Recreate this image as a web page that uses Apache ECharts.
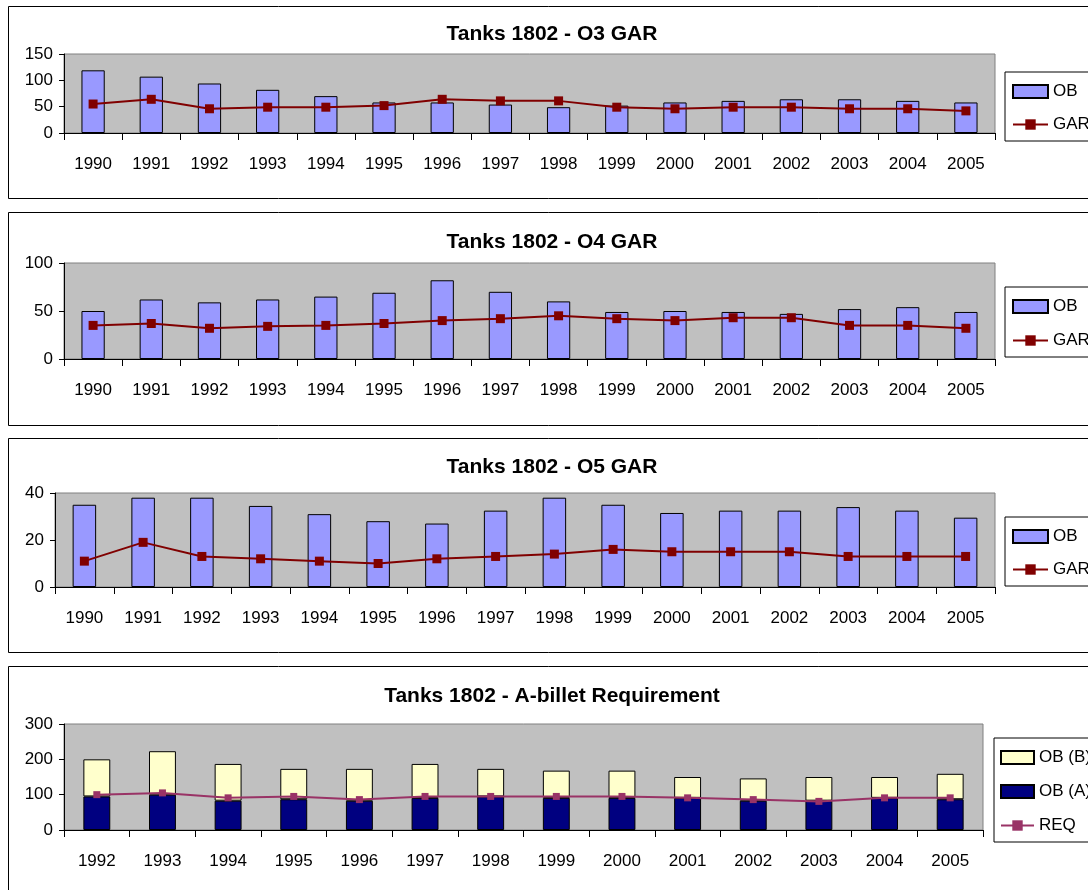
<!DOCTYPE html>
<html>
<head>
<meta charset="utf-8">
<script src="https://cdn.jsdelivr.net/npm/echarts@6/dist/echarts.min.js"></script>
<style>
  html, body { margin: 0; padding: 0; background: #fff; }
  #chart { width: 1088px; height: 890px; }
</style>
</head>
<body>
<div id="chart"></div>
<script>
// Category labels
const years90to05 = ['1990','1991','1992','1993','1994','1995','1996','1997','1998','1999','2000','2001','2002','2003','2004','2005'];
const years92to05 = ['1992','1993','1994','1995','1996','1997','1998','1999','2000','2001','2002','2003','2004','2005'];

// O3 GAR
const o3OB  = [119, 107, 94, 82, 70, 58, 58, 54, 49, 52, 58, 61, 64, 64, 61, 58];
const o3GAR = [55, 64, 46, 49, 49, 52, 64, 61, 61, 49, 46, 49, 49, 46, 46, 42];

// O4 GAR
const o4OB  = [50, 62, 59, 62, 65, 69, 82, 70, 60, 49, 50, 49, 47, 52, 54, 49];
const o4GAR = [35, 37, 32, 34, 35, 37, 40, 42, 45, 42, 40, 43, 43, 35, 35, 32];

// O5 GAR
const o5OB  = [35, 38, 38, 34.5, 31, 28, 27, 32.5, 38, 35, 31.5, 32.5, 32.5, 34, 32.5, 29.5];
const o5GAR = [11, 19, 13, 12, 11, 10, 12, 13, 14, 16, 15, 15, 15, 13, 13, 13];

// A-billet requirement
const abObA = [95, 100, 83, 87, 83, 91, 95, 91, 91, 91, 83, 83, 91, 87];
const abObB = [105, 123, 104, 86, 90, 96, 78, 77, 77, 59, 63, 67, 59, 72];
const abReq = [100, 105, 91, 95, 86, 95, 95, 95, 95, 91, 86, 81, 91, 91];

// Y-axis scales
const o3Axis = { max: 150, interval: 50 };
const o4Axis = { max: 100, interval: 50 };
const o5Axis = { max: 40, interval: 20 };
const abAxis = { max: 300, interval: 100 };

const FONT = "'Liberation Sans', Arial, sans-serif";
const BAR_BLUE = '#9999FF';
const GAR_RED = '#800000';
const REQ_PLUM = '#993366';

const panels = [
  { title: 'Tanks 1802 - O3 GAR', titleTop: 24, grid: { left: 64, top: 54, width: 931, height: 79 },
    legend: { left: 1005, top: 72, pad: [11, 7, 8, 7], gap: 16, iw: 35 } },
  { title: 'Tanks 1802 - O4 GAR', titleTop: 232, grid: { left: 64, top: 263, width: 931, height: 96 },
    legend: { left: 1005, top: 287, pad: [11, 7, 8, 7], gap: 17, iw: 35 } },
  { title: 'Tanks 1802 - O5 GAR', titleTop: 457, grid: { left: 55, top: 493, width: 940, height: 94 },
    legend: { left: 1005, top: 517, pad: [11, 7, 8, 7], gap: 16, iw: 35 } },
  { title: 'Tanks 1802 - A-billet Requirement', titleTop: 686, grid: { left: 64, top: 724, width: 919, height: 106 },
    legend: { left: 994, top: 738, pad: [11, 7, 8, 6], gap: 17, iw: 33 } }
];

const scales = [o3Axis, o4Axis, o5Axis, abAxis];
const cats = [years90to05, years90to05, years90to05, years92to05];

const option = {
  animation: false,
  backgroundColor: '#ffffff',
  textStyle: { fontFamily: FONT },
  graphic: [{
    type: 'group', z: -10,
    children: [
      { type: 'rect', z: -10, shape: { x: 8.5, y: 6.5, width: 1200, height: 192 }, style: { fill: '#fff', stroke: '#000', lineWidth: 1 } },
      { type: 'rect', z: -10, shape: { x: 8.5, y: 212.5, width: 1200, height: 213 }, style: { fill: '#fff', stroke: '#000', lineWidth: 1 } },
      { type: 'rect', z: -10, shape: { x: 8.5, y: 438.5, width: 1200, height: 214 }, style: { fill: '#fff', stroke: '#000', lineWidth: 1 } },
      { type: 'rect', z: -10, shape: { x: 8.5, y: 666.5, width: 1200, height: 300 }, style: { fill: '#fff', stroke: '#000', lineWidth: 1 } }
    ]
  }],
  title: panels.map(p => ({
    text: p.title,
    left: 552,
    textAlign: 'center',
    top: p.titleTop,
    padding: 0,
    textStyle: { fontFamily: FONT, fontSize: 21, fontWeight: 'bold', color: '#000' }
  })),
  grid: panels.map(p => Object.assign({
    show: true, backgroundColor: '#C0C0C0', borderColor: '#808080', borderWidth: 1, containLabel: false
  }, p.grid)),
  xAxis: cats.map((c, i) => ({
    type: 'category', gridIndex: i, data: c,
    axisLine: { show: true, lineStyle: { color: '#000', width: 1 } },
    axisTick: { show: true, length: 7, interval: 0, lineStyle: { color: '#000' } },
    axisLabel: { interval: 0, margin: 23, fontSize: 17, color: '#000', fontFamily: FONT },
    splitLine: { show: false }
  })),
  yAxis: scales.map((s, i) => ({
    type: 'value', gridIndex: i, min: 0, max: s.max, interval: s.interval,
    axisLine: { show: true, lineStyle: { color: '#000', width: 1 } },
    axisTick: { show: true, length: 5, lineStyle: { color: '#000' } },
    axisLabel: { margin: 11, fontSize: 17, color: '#000', fontFamily: FONT },
    splitLine: { show: false }
  })),
  legend: panels.map((p, i) => ({
    orient: 'vertical',
    left: p.legend.left,
    top: p.legend.top,
    padding: p.legend.pad,
    itemGap: p.legend.gap,
    itemWidth: p.legend.iw,
    itemHeight: 13,
    backgroundColor: '#fff',
    borderColor: '#000',
    borderWidth: 1,
    selectedMode: false,
    textStyle: { fontSize: 17, color: '#000', fontFamily: FONT, lineHeight: 17 },
    data: i < 3
      ? [{ name: 'OB', icon: 'rect' }, { name: 'GAR' }]
      : [{ name: 'OB (B)', icon: 'rect' }, { name: 'OB (A)', icon: 'rect' }, { name: 'REQ' }]
  })),
  series: []
};

function garPanel(idx, ob, gar) {
  option.series.push({
    name: 'OB', type: 'bar', xAxisIndex: idx, yAxisIndex: idx, data: ob,
    barWidth: '40%',
    itemStyle: { color: BAR_BLUE, borderColor: '#000', borderWidth: 1 }
  });
  option.series.push({
    name: 'GAR', type: 'line', xAxisIndex: idx, yAxisIndex: idx, data: gar,
    symbol: 'rect', symbolSize: 9,
    lineStyle: { color: GAR_RED, width: 2 },
    itemStyle: { color: GAR_RED }
  });
}

garPanel(0, o3OB, o3GAR);
garPanel(1, o4OB, o4GAR);
garPanel(2, o5OB, o5GAR);

option.series.push({
  name: 'OB (A)', type: 'bar', stack: 'ab', xAxisIndex: 3, yAxisIndex: 3, data: abObA,
  barWidth: '41%',
  itemStyle: { color: '#000080', borderColor: '#000', borderWidth: 1 }
});
option.series.push({
  name: 'OB (B)', type: 'bar', stack: 'ab', xAxisIndex: 3, yAxisIndex: 3, data: abObB,
  barWidth: '41%',
  itemStyle: { color: '#FFFFCC', borderColor: '#000', borderWidth: 1 }
});
option.series.push({
  name: 'REQ', type: 'line', xAxisIndex: 3, yAxisIndex: 3, data: abReq,
  symbol: 'rect', symbolSize: 7,
  lineStyle: { color: REQ_PLUM, width: 2 },
  itemStyle: { color: REQ_PLUM }
});

const chart = echarts.init(document.getElementById('chart'), null, { renderer: 'canvas' });
chart.setOption(option);
</script>
</body>
</html>
